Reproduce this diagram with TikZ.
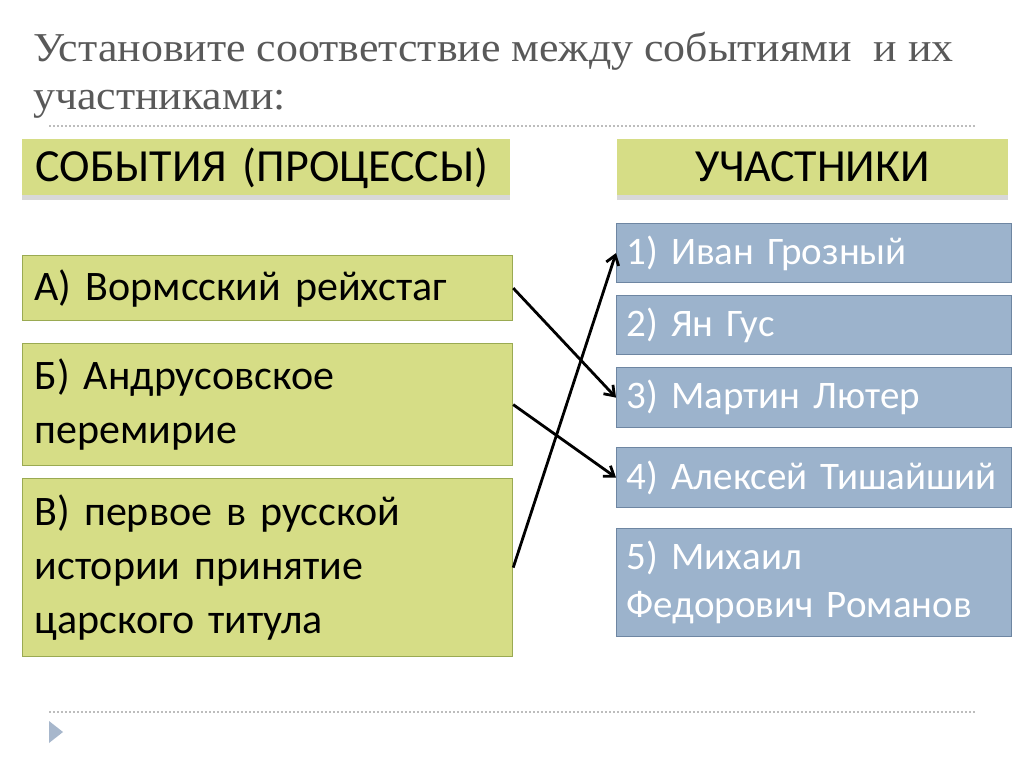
\documentclass[tikz,border=0pt]{standalone}
\usepackage{fontspec}
\setmainfont{Carlito}
\newfontfamily\titlefont[FakeStretch=1.07]{Liberation Serif}
\usetikzlibrary{arrows.meta,shadows}
\definecolor{evgreen}{HTML}{D6DD86}
\definecolor{evline}{HTML}{9AAA52}
\definecolor{pblue}{HTML}{9CB3CC}
\definecolor{pline}{HTML}{6E86A2}
\definecolor{titlegray}{HTML}{595959}
\definecolor{dotgray}{HTML}{BDBDBD}
\definecolor{markblue}{HTML}{A7B7CC}

\tikzset{
  titleline/.style={anchor=base west, inner sep=0pt, text=titlegray,
    font=\titlefont\fontsize{41}{48}\selectfont},
  head/.style={fill=evgreen, anchor=north west, minimum height=56pt,
    text height=29pt, text depth=0pt,
    font=\fontsize{46}{54}\selectfont,
    drop shadow={shadow xshift=0pt, shadow yshift=-5pt, opacity=0.3}},
  event/.style={draw=evline, line width=1.2pt, fill=evgreen, anchor=north west,
    inner xsep=12pt, text width=466pt, align=left,
    font=\fontsize{42}{54}\selectfont},
  person/.style={draw=pline, line width=1.2pt, fill=pblue, anchor=north west,
    inner xsep=10pt, text width=375pt, align=left, text=white,
    font=\fontsize{39}{48}\selectfont},
  conn/.style={line width=2.8pt, -{Straight Barb[length=9pt,width=13pt]}},
  sep/.style={dotgray, line width=1.2pt, dash pattern=on 2pt off 2pt}
}

\begin{document}
\begin{tikzpicture}[x=1pt,y=-1pt]
  \useasboundingbox[fill=white] (0,0) rectangle (1024,767);

  % title
  \node[titleline] (title1) at (33,62) {Установите соответствие между событиями~ и их};
  \node[titleline] (title2) at (33,110) {участниками:};
  \draw[sep] (49,126) -- (975,126);

  % headers
  \node[head, inner xsep=13pt, text width=462pt, align=left] (hev) at (22,139) {СОБЫТИЯ (ПРОЦЕССЫ)};
  \node[head, minimum width=391pt] (hpers) at (617,139) {УЧАСТНИКИ};

  % events
  \node[event, minimum height=65pt] (ea) at (22,255) {А) Вормсский рейхстаг};
  \node[event, minimum height=122pt] (eb) at (22,343) {Б) Андрусовское\\перемирие};
  \node[event, minimum height=178pt] (ec) at (22,478) {В) первое в русской\\истории принятие\\царского титула};

  % participants
  \node[person, minimum height=59pt] (p1) at (616,223) {1) Иван Грозный};
  \node[person, minimum height=59pt] (p2) at (616,295) {2) Ян Гус};
  \node[person, minimum height=60pt] (p3) at (616,367) {3) Мартин Лютер};
  \node[person, minimum height=60pt] (p4) at (616,447) {4) Алексей Тишайший};
  \node[person, minimum height=108pt] (p5) at (616,528) {5) Михаил\\Федорович Романов};

  % answers
  \draw[conn] (ea.east) -- (p3.west);
  \draw[conn] (eb.east) -- (p4.west);
  \draw[conn] (ec.east) -- (p1.west);

  % footer
  \draw[sep] (49,712) -- (975,712);
  \fill[markblue] (49,721) -- (63,732) -- (49,743) -- cycle;
\end{tikzpicture}
\end{document}
